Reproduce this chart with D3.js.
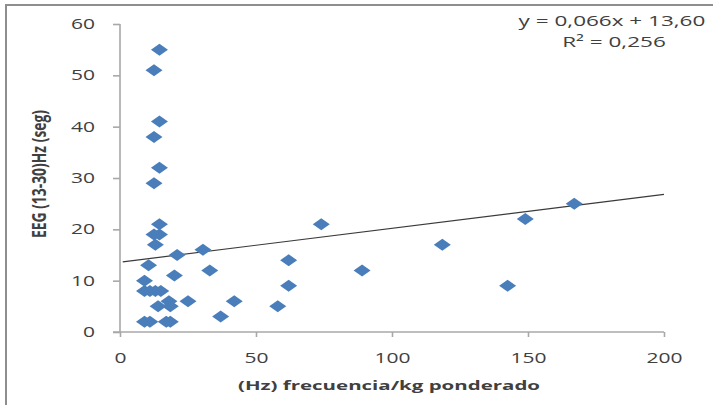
<!DOCTYPE html>
<html>
<head>
<meta charset="utf-8">
<script src="https://cdn.jsdelivr.net/npm/d3@7"></script>
<style>
  html, body { margin: 0; padding: 0; background: #fff; }
  svg { display: block; }
  text { font-family: "Open Sans", "Noto Sans", sans-serif; fill: #404040; }
</style>
</head>
<body>
<svg id="chart" width="713" height="405"></svg>
<script>
// Weighted frequency per kg (Hz) vs EEG 13-30 Hz time (s)
const freqHz = [14.5, 12.5, 14.5, 12.5, 14.5, 12.5, 14.5, 12.5, 14.5, 13,
                21, 30.5, 10.5, 20, 33, 62, 62, 9, 9, 11,
                13, 15, 18, 14, 18.5, 25, 42, 37, 58, 9,
                11, 17, 18.5, 74, 89, 118.5, 142.5, 149, 167];
const eegSec = [55, 51, 41, 38, 32, 29, 21, 19, 19, 17,
                15, 16, 13, 11, 12, 14, 9, 10, 8, 8,
                8, 8, 6, 5, 5, 6, 6, 3, 5, 2,
                2, 2, 2, 21, 12, 17, 9, 22, 25];

// Linear trend
const slope = 0.066;
const intercept = 13.60;
const r2 = 0.256;
const trendRange = [1, 200];

const xTicks = [0, 50, 100, 150, 200];
const yTicks = [0, 10, 20, 30, 40, 50, 60];
const xTitle = "(Hz) frecuencia/kg ponderado";
const yTitle = "EEG (13-30)Hz (seg)";
const eqLine1 = "y = " + d3.format(".3f")(slope).replace(".", ",") + "x + " + d3.format(".2f")(intercept).replace(".", ",");
const eqLine2 = "R² = " + d3.format(".3f")(r2).replace(".", ",");

const svg = d3.select("#chart");
const plot = { left: 120, right: 664, top: 24, bottom: 332 };
const SX = 1.5; // horizontal text widening

const x = d3.scaleLinear().domain([0, 200]).range([plot.left, plot.right]);
const y = d3.scaleLinear().domain([0, 60]).range([plot.bottom, plot.top]);

// outer frame (only top and left edges fall inside the view)
svg.append("path")
  .attr("d", "M6,410 L6,5 L720,5")
  .attr("fill", "none")
  .attr("stroke", "#8e8e8e")
  .attr("stroke-width", 2);

const axisColor = "#a8a8a8";

// y axis
const gy = svg.append("g")
  .attr("transform", `translate(${plot.left},0)`)
  .call(d3.axisLeft(y).tickValues(yTicks).tickSize(7).tickPadding(18).tickFormat(d3.format("d")));
// x axis
const gx = svg.append("g")
  .attr("transform", `translate(0,${plot.bottom})`)
  .call(d3.axisBottom(x).tickValues(xTicks).tickSize(5).tickPadding(16).tickFormat(d3.format("d")));

[gy, gx].forEach(g => {
  g.select(".domain").attr("stroke", axisColor).attr("stroke-width", 1.6);
  g.selectAll(".tick line").attr("stroke", axisColor).attr("stroke-width", 1.6);
  g.selectAll(".tick text")
    .attr("font-family", "Open Sans")
    .attr("font-size", 14)
    .attr("fill", "#404040")
    .classed("wide", true);
});
gy.select(".domain").attr("d", `M0,${plot.bottom}V${plot.top}`);
gx.select(".domain").attr("d", `M${plot.left - 7},0H${plot.right}`);

// trendline
svg.append("line")
  .attr("x1", x(trendRange[0])).attr("y1", y(intercept + slope * trendRange[0]))
  .attr("x2", x(trendRange[1])).attr("y2", y(intercept + slope * trendRange[1]))
  .attr("stroke", "#3a3a3a")
  .attr("stroke-width", 1.2);

// diamond markers
const dw = 8.5, dh = 6;
const diamond = `M0,${-dh}L${dw},0L0,${dh}L${-dw},0Z`;
svg.append("g")
  .selectAll("path")
  .data(freqHz.map((f, i) => [f, eegSec[i]]))
  .join("path")
  .attr("d", diamond)
  .attr("transform", d => `translate(${x(d[0])},${y(d[1])})`)
  .attr("fill", "#4a7ebb");

// equation
svg.append("text")
  .attr("x", 612).attr("y", 26)
  .attr("text-anchor", "middle")
  .attr("font-size", 15)
  .attr("fill", "#333")
  .classed("wide", true)
  .text(eqLine1);
svg.append("text")
  .attr("x", 614).attr("y", 47)
  .attr("text-anchor", "middle")
  .attr("font-size", 15)
  .attr("fill", "#333")
  .classed("wide", true)
  .text(eqLine2);

// x title
svg.append("text")
  .attr("x", 389).attr("y", 390)
  .attr("text-anchor", "middle")
  .attr("font-size", 13)
  .attr("font-weight", "bold")
  .attr("fill", "#404040")
  .attr("textLength", 302)
  .attr("lengthAdjust", "spacingAndGlyphs")
  .text(xTitle);

// y title
svg.append("g")
  .attr("transform", `translate(46,174) scale(${SX},1) rotate(-90)`)
  .append("text")
  .attr("text-anchor", "middle")
  .attr("font-size", 13.5)
  .attr("font-weight", "bold")
  .attr("fill", "#404040")
  .attr("textLength", 128)
  .attr("lengthAdjust", "spacingAndGlyphs")
  .text(yTitle);

// widen horizontal labels
svg.selectAll("text.wide").each(function() {
  const len = this.getComputedTextLength();
  d3.select(this)
    .attr("textLength", len * SX)
    .attr("lengthAdjust", "spacingAndGlyphs");
});
</script>
</body>
</html>
